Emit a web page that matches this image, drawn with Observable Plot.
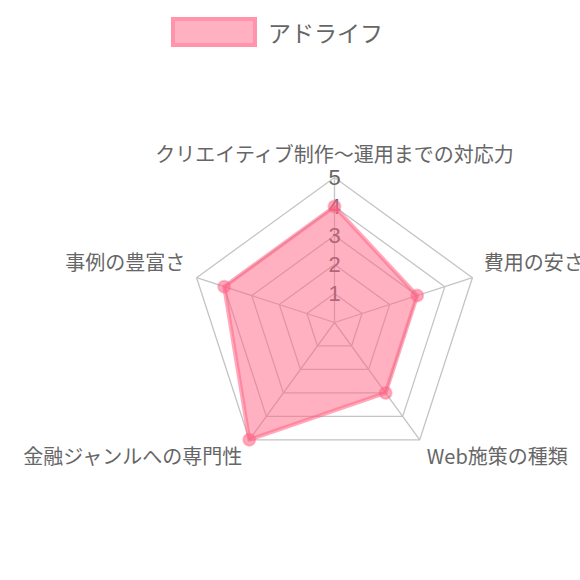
<!DOCTYPE html>
<html><head><meta charset="utf-8">
<script src="https://cdn.jsdelivr.net/npm/d3@7"></script>
<script src="https://cdn.jsdelivr.net/npm/@observablehq/plot@0.6"></script>
<style>
body{margin:0;background:#fff;font-family:"Noto Sans CJK JP","Noto Sans",sans-serif;}
#legend{height:60px;position:relative;}
#legend .box{position:absolute;left:171px;top:17px;width:86px;height:30px;box-sizing:border-box;background:#ffb1c1;border:4px solid #ff94ab;}
#legend .lbl{position:absolute;left:268px;top:17px;line-height:30px;font-size:23px;color:#666;}
</style>
</head><body>
<div id="legend"><div class="box"></div><div class="lbl"></div></div>
<div id="chart"></div>
<script>
const axes = ["クリエイティブ制作〜運用までの対応力","費用の安さ","Web施策の種類","金融ジャンルへの専門性","事例の豊富さ"];
const values = [4,3,3,5,4];
const ticks = [1,2,3,4,5];
const seriesName = "アドライフ";
const maxV = 5;

document.querySelector("#legend .lbl").textContent = seriesName;

const n = axes.length;
const ang = i => 2*Math.PI*i/n;
const pt = (i,r) => ({x: r*Math.sin(ang(i)), y: -r*Math.cos(ang(i))});

const grid = [];
ticks.forEach(t => { for (let i=0;i<=n;i++) grid.push({level:t, ...pt(i%n,t)}); });
const spokes = axes.map((a,i)=>({...pt(i,maxV)}));
const series = values.map((v,i)=>({axis:axes[i], v, ...pt(i,v)}));
const labR = maxV*1.083;
const labels = axes.map((a,i)=>{
  const p = pt(i,labR);
  const s = Math.sin(ang(i));
  const anchor = Math.abs(s)<1e-6 ? "middle" : (s>0 ? "start" : "end");
  const upper = Math.cos(ang(i)) > 0;
  return {name:a, anchor, upper, ...p};
});
const tickPts = ticks.map(t=>({t, ...pt(0,t)}));

const W=580, H=520, cx=334, cy=262, unit=29;
const textMark = (anchor, upper) => Plot.text(labels.filter(d=>d.anchor===anchor && d.upper===upper), {
  x:"x", y:"y", text:"name", textAnchor:anchor, fill:"#666", fontSize:20, dy: upper?-10:8,
  fontFamily:'"Noto Sans CJK JP", sans-serif'
});

const chart = Plot.plot({
  width:W, height:H, margin:0,
  style:{background:"#fff", fontFamily:'"Noto Sans CJK JP", sans-serif', overflow:"visible"},
  x:{domain:[-cx/unit,(W-cx)/unit], range:[0,W], axis:null},
  y:{domain:[-cy/unit,(H-cy)/unit], range:[0,H], axis:null},
  marks:[
    Plot.line(grid, {x:"x", y:"y", z:"level", stroke:"#c4c4c4", strokeWidth:1.3}),
    Plot.link(spokes, {x1:()=>0, y1:()=>0, x2:"x", y2:"y", stroke:"#c4c4c4", strokeWidth:1.3}),
    Plot.text(tickPts, {x:"x", y:"y", text:d=>String(d.t), fill:"#666", fontSize:22, fontFamily:"Liberation Sans, sans-serif"}),
    Plot.line(series, {x:"x", y:"y", curve:"linear-closed", fill:"rgba(255,99,132,0.5)", stroke:"rgb(255,99,132)", strokeOpacity:0.55, strokeWidth:4}),
    Plot.dot(series, {x:"x", y:"y", r:6, fill:"rgba(255,99,132,0.55)", stroke:"rgba(255,99,132,0.4)", strokeWidth:2}),
    textMark("middle", true),
    textMark("start", true),
    textMark("start", false),
    textMark("end", false),
    textMark("end", true)
  ]
});
document.getElementById("chart").appendChild(chart);
</script>
</body></html>
